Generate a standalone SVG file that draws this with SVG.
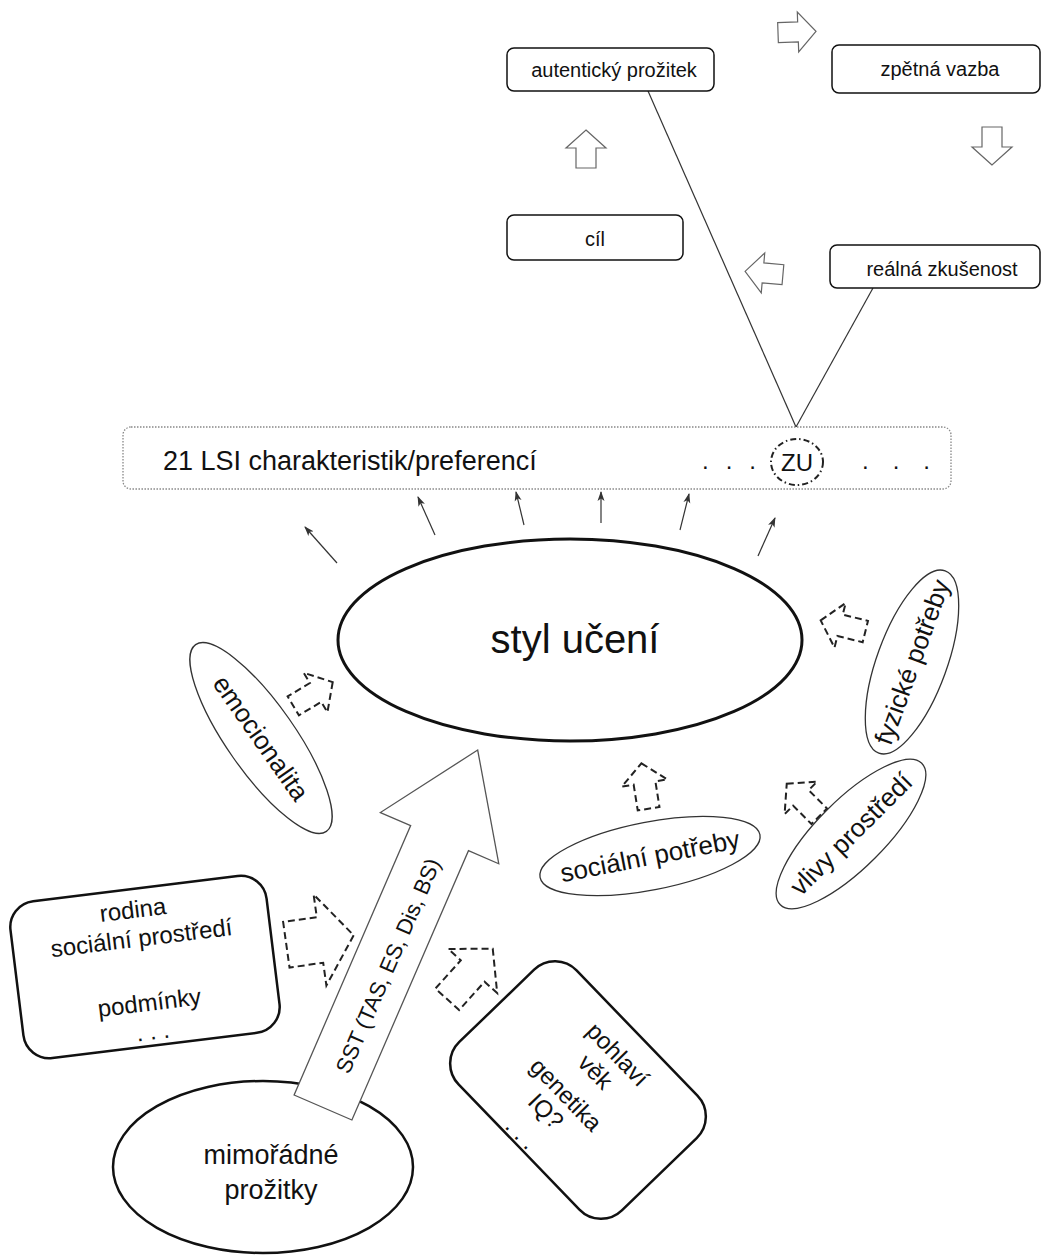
<svg xmlns="http://www.w3.org/2000/svg" width="1062" height="1257" viewBox="0 0 1062 1257">
<defs>
<style>
text{font-family:"Liberation Sans",Arial,sans-serif;fill:#111}
.box{fill:#fff;stroke:#111;stroke-width:1.5}
.bigbox{fill:#fff;stroke:#111;stroke-width:2.5}
.oval{fill:#fff;stroke:#333;stroke-width:1.3}
.garrow{fill:#fff;stroke:#666;stroke-width:1.2}
.darrow{fill:none;stroke:#222;stroke-width:2;stroke-dasharray:7 4}
.thin{stroke:#333;stroke-width:1.2;fill:none}
.lbl{font-size:20px;text-anchor:middle}
.olbl{font-size:26px;text-anchor:middle}
.blbl{font-size:24px;text-anchor:middle}
</style>
<path id="ga" d="M0,-19 L20,-1 L10,-1 L10,19 L-10,19 L-10,-1 L-20,-1 Z"/>
<path id="da" d="M0,-23 L23,-3 L11,-3 L11,23 L-11,23 L-11,-3 L-23,-3 Z"/>
<path id="dal" d="M0,-34 L33,-4 L16,-4 L16,34 L-16,34 L-16,-4 L-33,-4 Z"/>
<path id="dar" d="M0,-34 L46,0 L23,0 L23,34 L-23,34 L-23,0 L-46,0 Z"/>
<marker id="ah" markerWidth="10" markerHeight="8" refX="9" refY="4" orient="auto" markerUnits="userSpaceOnUse"><path d="M0,0.5 L10,4 L0,7.5 L2.5,4 Z" fill="#333"/></marker>
</defs>
<rect width="1062" height="1257" fill="#fff"/>

<g id="connectors">
  <line class="thin" x1="648" y1="91" x2="796" y2="427"/>
  <line class="thin" x1="873" y1="288" x2="796" y2="427"/>
  <line class="thin" x1="337" y1="563" x2="305" y2="527" marker-end="url(#ah)"/>
  <line class="thin" x1="435" y1="535" x2="418" y2="497" marker-end="url(#ah)"/>
  <line class="thin" x1="524" y1="525" x2="516" y2="492" marker-end="url(#ah)"/>
  <line class="thin" x1="601" y1="523" x2="601" y2="492" marker-end="url(#ah)"/>
  <line class="thin" x1="680" y1="530" x2="689" y2="494" marker-end="url(#ah)"/>
  <line class="thin" x1="758" y1="556" x2="775" y2="518" marker-end="url(#ah)"/>
  <use href="#ga" class="garrow" transform="translate(797,32) rotate(88)"/>
  <use href="#ga" class="garrow" transform="translate(992,146) rotate(180)"/>
  <use href="#ga" class="garrow" transform="translate(586,149)"/>
  <use href="#ga" class="garrow" transform="translate(764,273) rotate(-85)"/>
  <use href="#da" class="darrow" transform="translate(313,694) rotate(59)"/>
  <use href="#da" class="darrow" transform="translate(843,626) rotate(-76)"/>
  <use href="#da" class="darrow" transform="translate(645,786) rotate(-9)"/>
  <use href="#da" class="darrow" transform="translate(803,800) rotate(-45)"/>
  <use href="#dar" class="darrow" transform="translate(320,940) rotate(82)"/>
  <use href="#dal" class="darrow" transform="translate(470,974) rotate(42)"/>
</g>

<g id="autenticky">
  <rect class="box" x="507" y="48" width="207" height="43" rx="7"/>
  <text class="lbl" x="614" y="77">autentický prožitek</text>
</g>
<g id="zpetna">
  <rect class="box" x="832" y="45" width="208" height="48" rx="7"/>
  <text class="lbl" x="940" y="76">zpětná vazba</text>
</g>
<g id="cil">
  <rect class="box" x="507" y="215" width="176" height="45" rx="7"/>
  <text class="lbl" x="595" y="246">cíl</text>
</g>
<g id="realna">
  <rect class="box" x="830" y="245" width="210" height="43" rx="7"/>
  <text class="lbl" x="942" y="276">reálná zkušenost</text>
</g>

<g id="lsi">
  <rect x="123" y="427" width="828" height="62" rx="8" fill="#fff" stroke="#888" stroke-width="1.3" stroke-dasharray="1.5 1.5"/>
  <text x="163" y="470" font-size="27">21 LSI charakteristik/preferencí</text>
  <text x="702" y="469" font-size="24" textLength="54" lengthAdjust="spacing" xml:space="preserve">. . .</text>
  <text x="862" y="469" font-size="24" textLength="68" lengthAdjust="spacing" xml:space="preserve">. . .</text>
</g>
<g id="zu">
  <ellipse cx="797" cy="462" rx="26" ry="23" fill="none" stroke="#222" stroke-width="2" stroke-dasharray="6 3 1.5 3"/>
  <text x="797" y="471" font-size="24" text-anchor="middle">ZU</text>
</g>

<g id="styl">
  <ellipse cx="570" cy="640" rx="232" ry="101" fill="#fff" stroke="#111" stroke-width="3"/>
  <text x="575" y="653" font-size="40" text-anchor="middle">styl učení</text>
</g>

<g id="emocionalita" transform="translate(261,738) rotate(55)">
  <ellipse class="oval" rx="114" ry="34"/>
  <text class="olbl" x="0" y="9">emocionalita</text>
</g>
<g id="fyzicke" transform="translate(912,662) rotate(-70)">
  <ellipse class="oval" rx="97" ry="35"/>
  <text class="olbl" x="0" y="9">fyzické potřeby</text>
</g>
<g id="vlivy" transform="translate(851,834) rotate(-45)">
  <ellipse class="oval" rx="100" ry="34"/>
  <text class="olbl" x="0" y="9">vlivy prostředí</text>
</g>
<g id="socialni" transform="translate(650,856) rotate(-11)">
  <ellipse class="oval" rx="112" ry="34"/>
  <text class="olbl" x="0" y="9">sociální potřeby</text>
</g>

<g id="rodina" transform="translate(145,967) rotate(-7)">
  <rect class="bigbox" x="-129" y="-79" width="258" height="158" rx="26"/>
  <text class="blbl" x="-5" y="-50">rodina</text>
  <text class="blbl" x="0" y="-21">sociální prostředí</text>
  <text class="blbl" x="0" y="44">podmínky</text>
  <text class="blbl" x="0" y="73" xml:space="preserve">. . .</text>
</g>

<g id="pohlavi" transform="translate(578,1090) rotate(46)">
  <rect class="bigbox" x="-117" y="-82" width="234" height="164" rx="30"/>
  <text class="blbl" x="2" y="-45" font-size="25">pohlaví</text>
  <text class="blbl" x="-1" y="-17" font-size="25">věk</text>
  <text class="blbl" x="-5" y="20" font-size="25">genetika</text>
  <text class="blbl" x="-7" y="46" font-size="25">IQ?</text>
  <text class="blbl" x="-8" y="79" font-size="25" xml:space="preserve">. . .</text>
</g>

<g id="mimoradne">
  <ellipse cx="263" cy="1167" rx="150" ry="86" fill="#fff" stroke="#111" stroke-width="2.5"/>
  <text x="271" y="1164" font-size="27" text-anchor="middle">mimořádné</text>
  <text x="271" y="1199" font-size="27" text-anchor="middle">prožitky</text>
</g>

<g id="sst" transform="translate(323,1107.5) rotate(23.4)">
  <path d="M-31.5,0 V-293.5 H-64.5 L0,-389.5 L64.5,-293.5 H31.5 V0 Z" fill="#fff" stroke="#555" stroke-width="1.3"/>
  <text transform="translate(11,-156) rotate(-90)" font-size="22" text-anchor="middle">SST (TAS, ES, Dis, BS)</text>
</g>
</svg>
